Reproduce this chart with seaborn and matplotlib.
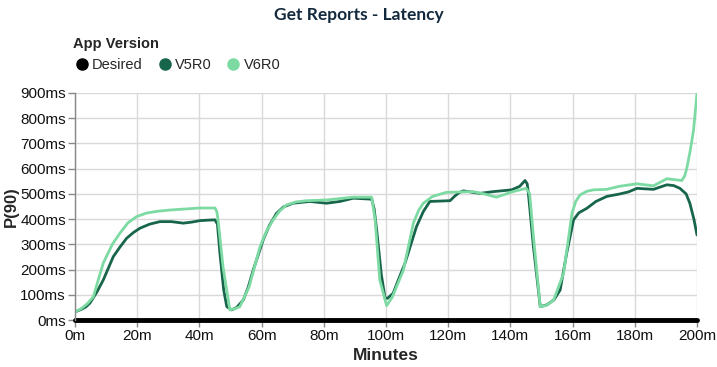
import matplotlib
matplotlib.use("Agg")
import matplotlib.pyplot as plt
import seaborn as sns
import pandas as pd
from matplotlib.lines import Line2D

title = "Get Reports - Latency"
versions = ["Desired", "V5R0", "V6R0"]
colors = ["#000000", "#17654a", "#7ddaa3"]

desired_min = [0, 200]
desired_ms = [0, 0]

v5_min = [0, 2, 3.5, 4.8, 7, 9.1, 12.3, 14.5, 16.6, 18.8, 20.9, 24, 27.3, 31, 34.8, 37.5,
          40.2, 43, 45, 45.8, 46.6, 47.8, 48.8, 50.4, 52, 54.1, 55.7, 57.3, 60.5, 62.5,
          64.8, 67, 70.1, 75.5, 80.9, 85.2, 89.5, 95.4, 96.2, 97, 98.5, 99.7, 100.5,
          102.3, 104, 106.1, 109.8, 112, 114.1, 120.6, 122, 123.5, 124.9, 127, 130.2,
          134.5, 140.4, 143, 144.7, 145.4, 145.8, 147.4, 149.6, 151.7, 154, 156, 158.1,
          160.3, 162, 164.6, 167.5, 171, 175.3, 178, 180.7, 186, 190.3, 192.5, 194.5,
          196.5, 197.7, 199, 200]
v5_ms = [32, 42, 52, 67, 110, 159, 251, 290, 324, 347, 364, 380, 390, 390, 384, 388,
         394, 396, 397, 380, 265, 120, 53, 40, 50, 79, 130, 198, 317, 375,
         423, 448, 463, 470, 463, 470, 483, 479, 440, 357, 180, 87, 86,
         106, 160, 225, 370, 430, 470, 473, 490, 505,
         512, 508, 502, 509, 516, 530, 553, 540, 500, 291, 53, 60, 80, 119, 265,
         397, 425, 443, 470, 490, 500, 508, 522, 518, 536, 533, 522,
         500, 463, 400, 337]

v6_min = [0, 2, 4, 5.9, 7.5, 9.1, 12, 14.5, 17, 19.8, 23, 26.5, 30.5, 40, 45, 45.6, 46,
          47.6, 49.8, 51.5, 53, 56, 59.5, 61.5, 63.7, 65.8, 68, 71, 74.5, 81, 89.5, 95.4,
          96.5, 98, 100.2, 102, 105.6, 108.8, 110.5, 112, 115, 119.4, 128, 131.5, 135.5,
          140.8, 145.1, 146.2, 147.4, 149.6, 151.5, 153.9, 157.1, 159.8, 161, 162.4,
          164.5, 166.7, 171, 175, 180.7, 186, 188, 190.3, 195.1, 196, 196.7, 197.8,
          198.9, 200]
v6_ms = [32, 45, 65, 92, 160, 226, 300, 345, 385, 410, 424, 431, 436, 444, 444, 430, 397,
         210, 40, 45, 53, 132, 291, 350, 397, 432, 456, 468, 473, 476, 487, 487,
         397, 159, 57, 90, 198, 384, 435, 463, 490, 506, 509, 500, 487,
         509, 522, 500, 331, 53, 58, 79, 185, 423, 470, 496,
         510, 516, 518, 530, 540, 532, 545, 560, 553, 570, 600, 670,
         754, 900]

rows = []
for m, v in zip(v5_min, v5_ms):
    rows.append(("V5R0", m, v))
for m, v in zip(v6_min, v6_ms):
    rows.append(("V6R0", m, v))
df = pd.DataFrame(rows, columns=["version", "minutes", "ms"])

sns.set_theme(style="whitegrid")
plt.rcParams["font.family"] = ["Liberation Sans", "DejaVu Sans"]

fig = plt.figure(figsize=(7.17, 3.67), dpi=100)
ax = fig.add_axes([75/717, 1 - 320/367, (697-75)/717, (320-93)/367])

sns.lineplot(data=df, x="minutes", y="ms", hue="version",
             palette={"V5R0": colors[1], "V6R0": colors[2]},
             hue_order=["V5R0", "V6R0"], linewidth=2, ax=ax, legend=False,
             sort=True, estimator=None)
sns.lineplot(x=desired_min, y=desired_ms, color=colors[0], linewidth=3.5, ax=ax,
             legend=False, clip_on=False)

ax.set_xlim(0, 200)
ax.set_ylim(0, 900)
ax.set_xticks(range(0, 201, 20))
ax.set_xticklabels([f"{t}m" for t in range(0, 201, 20)])
ax.set_yticks(range(0, 901, 100))
ax.set_yticklabels([f"{t}ms" for t in range(0, 901, 100)])
ax.grid(True, color="#d9d9d9", linewidth=1)
for s in ["top", "right", "bottom"]:
    ax.spines[s].set_visible(False)
ax.spines["left"].set_color("#888888")
ax.spines["left"].set_linewidth(1)
ax.tick_params(axis="both", length=5, width=1, color="#888888", labelsize=11,
               labelcolor="#111111", pad=1.5, left=True, bottom=True)
ax.set_xlabel("Minutes", fontsize=12.5, fontweight="bold")
ax.set_ylabel("P(90)", fontsize=12, fontweight="bold")
ax.xaxis.set_label_coords(0.5, -(348 - 320) / 227)
ax.yaxis.set_label_coords((19 - 75) / 622, 0.5)

fig.text(0.5, 1 - 15/367, title, ha="center", va="center", fontsize=12.5,
         fontweight="bold", color="#13293d", family=["Lato", "DejaVu Sans"])

handles = [Line2D([0], [0], marker="o", linestyle="", markersize=8,
                  markerfacecolor=c, markeredgecolor=c) for c in colors]
leg = fig.legend(handles, versions, title="App Version", loc="upper left",
                 bbox_to_anchor=(73/717, 1 - 37/367), ncol=3, frameon=False,
                 handletextpad=0.1, columnspacing=0.9,
                 borderaxespad=0, borderpad=0, handlelength=1.2,
                 prop={"family": ["Liberation Sans", "DejaVu Sans"], "size": 10.5})
leg.get_title().set_fontweight("bold")
leg.get_title().set_fontsize(10.5)
leg._legend_box.align = "left"

fig.savefig("out.png", dpi=100)
